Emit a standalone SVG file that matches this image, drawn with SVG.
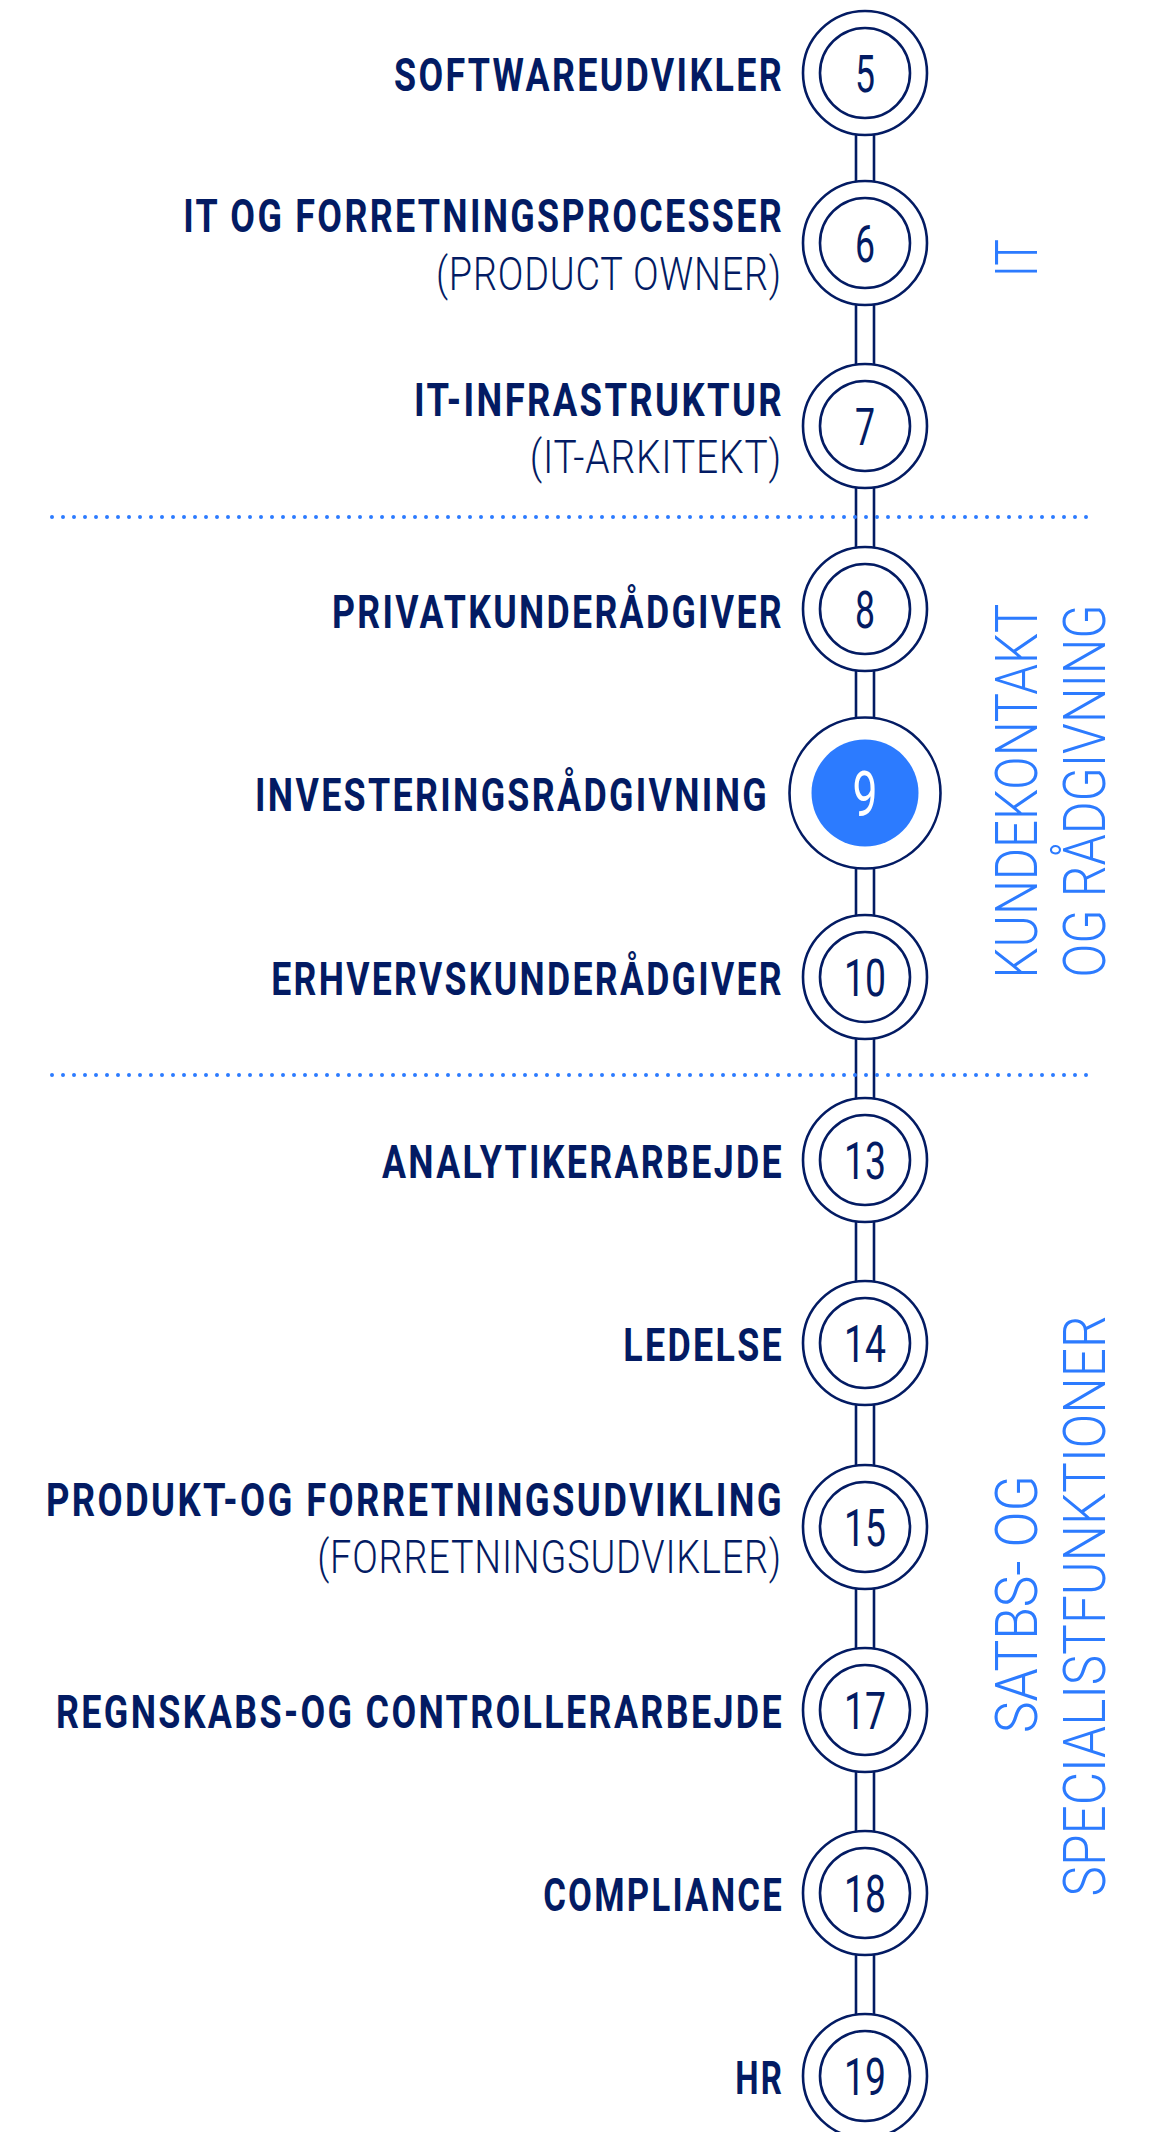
<svg xmlns="http://www.w3.org/2000/svg" width="1162" height="2132" viewBox="0 0 1162 2132">
<style>
.bg{fill:#ffffff}
.ring{fill:#ffffff;stroke:#031b63;stroke-width:2.6}
.inner{fill:none;stroke:#031b63;stroke-width:2.6}
.conn{stroke:#031b63;stroke-width:2.6;fill:none}
.sep{stroke:#2c7bff;stroke-width:4;stroke-linecap:round;stroke-dasharray:0 11;fill:none}
.lbl{font-family:Roboto,"Liberation Sans",sans-serif;font-weight:700;font-size:46px;fill:#031b63;letter-spacing:3px}
.sub{font-family:Roboto,"Liberation Sans",sans-serif;font-weight:300;font-size:46px;fill:#031b63;letter-spacing:1px}
.num{font-family:Roboto,"Liberation Sans",sans-serif;font-weight:400;font-size:52px;fill:#031b63}
.numw{font-family:Roboto,"Liberation Sans",sans-serif;font-weight:400;font-size:63px;fill:#ffffff}
.grp{font-family:Roboto,"Liberation Sans",sans-serif;font-weight:300;font-size:60px;fill:#2c7bff}
</style>
<rect class="bg" x="0" y="0" width="1162" height="2132"/>

<g id="connectors">
<path class="conn" d="M856 73V2076M874 73V2076"/>
</g>

<g id="separators">
<line class="sep" x1="52" y1="517" x2="1094" y2="517"/>
<line class="sep" x1="52" y1="1075" x2="1094" y2="1075"/>
</g>

<g id="node-5">
<circle class="ring" cx="865" cy="73" r="62"/><circle class="inner" cx="865" cy="73" r="45"/>
<text class="num" transform="translate(865,92) scale(0.7,1)" text-anchor="middle" textLength="28.6" lengthAdjust="spacingAndGlyphs">5</text>
<text class="lbl" transform="translate(784,91) scale(0.8,1)" text-anchor="end" textLength="487.5" lengthAdjust="spacingAndGlyphs">SOFTWAREUDVIKLER</text>
</g>
<g id="node-6">
<circle class="ring" cx="865" cy="243" r="62"/><circle class="inner" cx="865" cy="243" r="45"/>
<text class="num" transform="translate(865,262) scale(0.7,1)" text-anchor="middle" textLength="28.6" lengthAdjust="spacingAndGlyphs">6</text>
<text class="lbl" transform="translate(784,232) scale(0.8,1)" text-anchor="end" textLength="751" lengthAdjust="spacingAndGlyphs">IT OG FORRETNINGSPROCESSER</text>
<text class="sub" transform="translate(782,290) scale(0.83,1)" text-anchor="end" textLength="417" lengthAdjust="spacingAndGlyphs">(PRODUCT OWNER)</text>
</g>
<g id="node-7">
<circle class="ring" cx="865" cy="426" r="62"/><circle class="inner" cx="865" cy="426" r="45"/>
<text class="num" transform="translate(865,445) scale(0.7,1)" text-anchor="middle" textLength="28.6" lengthAdjust="spacingAndGlyphs">7</text>
<text class="lbl" transform="translate(784,416) scale(0.8,1)" text-anchor="end" textLength="462.5" lengthAdjust="spacingAndGlyphs">IT-INFRASTRUKTUR</text>
<text class="sub" transform="translate(782,473) scale(0.83,1)" text-anchor="end" textLength="304" lengthAdjust="spacingAndGlyphs">(IT-ARKITEKT)</text>
</g>
<g id="node-8">
<circle class="ring" cx="865" cy="609" r="62"/><circle class="inner" cx="865" cy="609" r="45"/>
<text class="num" transform="translate(865,628) scale(0.7,1)" text-anchor="middle" textLength="28.6" lengthAdjust="spacingAndGlyphs">8</text>
<text class="lbl" transform="translate(784,628) scale(0.8,1)" text-anchor="end" textLength="565" lengthAdjust="spacingAndGlyphs">PRIVATKUNDERÅDGIVER</text>
</g>
<g id="node-9">
<circle class="ring" cx="865" cy="793" r="75.5"/><circle cx="865" cy="793" r="53.5" fill="#2c7bff"/>
<text class="numw" transform="translate(865,816) scale(0.7,1)" text-anchor="middle" textLength="35.7" lengthAdjust="spacingAndGlyphs">9</text>
<text class="lbl" transform="translate(769,811) scale(0.8,1)" text-anchor="end" textLength="642.5" lengthAdjust="spacingAndGlyphs">INVESTERINGSRÅDGIVNING</text>
</g>
<g id="node-10">
<circle class="ring" cx="865" cy="977" r="62"/><circle class="inner" cx="865" cy="977" r="45"/>
<text class="num" transform="translate(865,996) scale(0.7,1)" text-anchor="middle" textLength="60" lengthAdjust="spacingAndGlyphs">10</text>
<text class="lbl" transform="translate(784,995) scale(0.8,1)" text-anchor="end" textLength="641" lengthAdjust="spacingAndGlyphs">ERHVERVSKUNDERÅDGIVER</text>
</g>
<g id="node-13">
<circle class="ring" cx="865" cy="1160" r="62"/><circle class="inner" cx="865" cy="1160" r="45"/>
<text class="num" transform="translate(865,1179) scale(0.7,1)" text-anchor="middle" textLength="60" lengthAdjust="spacingAndGlyphs">13</text>
<text class="lbl" transform="translate(784,1178) scale(0.8,1)" text-anchor="end" textLength="502.5" lengthAdjust="spacingAndGlyphs">ANALYTIKERARBEJDE</text>
</g>
<g id="node-14">
<circle class="ring" cx="865" cy="1343" r="62"/><circle class="inner" cx="865" cy="1343" r="45"/>
<text class="num" transform="translate(865,1362) scale(0.7,1)" text-anchor="middle" textLength="60" lengthAdjust="spacingAndGlyphs">14</text>
<text class="lbl" transform="translate(784,1361) scale(0.8,1)" text-anchor="end" textLength="201" lengthAdjust="spacingAndGlyphs">LEDELSE</text>
</g>
<g id="node-15">
<circle class="ring" cx="865" cy="1527" r="62"/><circle class="inner" cx="865" cy="1527" r="45"/>
<text class="num" transform="translate(865,1546) scale(0.7,1)" text-anchor="middle" textLength="60" lengthAdjust="spacingAndGlyphs">15</text>
<text class="lbl" transform="translate(784,1516) scale(0.8,1)" text-anchor="end" textLength="922.5" lengthAdjust="spacingAndGlyphs">PRODUKT-OG FORRETNINGSUDVIKLING</text>
<text class="sub" transform="translate(782,1573) scale(0.83,1)" text-anchor="end" textLength="560" lengthAdjust="spacingAndGlyphs">(FORRETNINGSUDVIKLER)</text>
</g>
<g id="node-17">
<circle class="ring" cx="865" cy="1710" r="62"/><circle class="inner" cx="865" cy="1710" r="45"/>
<text class="num" transform="translate(865,1729) scale(0.7,1)" text-anchor="middle" textLength="60" lengthAdjust="spacingAndGlyphs">17</text>
<text class="lbl" transform="translate(784,1728) scale(0.8,1)" text-anchor="end" textLength="910" lengthAdjust="spacingAndGlyphs">REGNSKABS-OG CONTROLLERARBEJDE</text>
</g>
<g id="node-18">
<circle class="ring" cx="865" cy="1893" r="62"/><circle class="inner" cx="865" cy="1893" r="45"/>
<text class="num" transform="translate(865,1912) scale(0.7,1)" text-anchor="middle" textLength="60" lengthAdjust="spacingAndGlyphs">18</text>
<text class="lbl" transform="translate(784,1911) scale(0.8,1)" text-anchor="end" textLength="301" lengthAdjust="spacingAndGlyphs">COMPLIANCE</text>
</g>
<g id="node-19">
<circle class="ring" cx="865" cy="2076" r="62"/><circle class="inner" cx="865" cy="2076" r="45"/>
<text class="num" transform="translate(865,2095) scale(0.7,1)" text-anchor="middle" textLength="60" lengthAdjust="spacingAndGlyphs">19</text>
<text class="lbl" transform="translate(784,2094) scale(0.8,1)" text-anchor="end" textLength="61" lengthAdjust="spacingAndGlyphs">HR</text>
</g>

<g id="group-it">
<text class="grp" transform="translate(1037,258) rotate(-90) scale(0.85,1)" text-anchor="middle" textLength="44.7" lengthAdjust="spacingAndGlyphs">IT</text>
</g>
<g id="group-kunde">
<text class="grp" transform="translate(1037,791) rotate(-90) scale(0.85,1)" text-anchor="middle" textLength="441" lengthAdjust="spacingAndGlyphs">KUNDEKONTAKT</text>
<text class="grp" transform="translate(1105,791) rotate(-90) scale(0.85,1)" text-anchor="middle" textLength="439" lengthAdjust="spacingAndGlyphs">OG RÅDGIVNING</text>
</g>
<g id="group-stabs">
<text class="grp" transform="translate(1037,1604) rotate(-90) scale(0.85,1)" text-anchor="middle" textLength="303.5" lengthAdjust="spacingAndGlyphs">SATBS- OG</text>
<text class="grp" transform="translate(1105,1606) rotate(-90) scale(0.85,1)" text-anchor="middle" textLength="683.5" lengthAdjust="spacingAndGlyphs">SPECIALISTFUNKTIONER</text>
</g>
</svg>
